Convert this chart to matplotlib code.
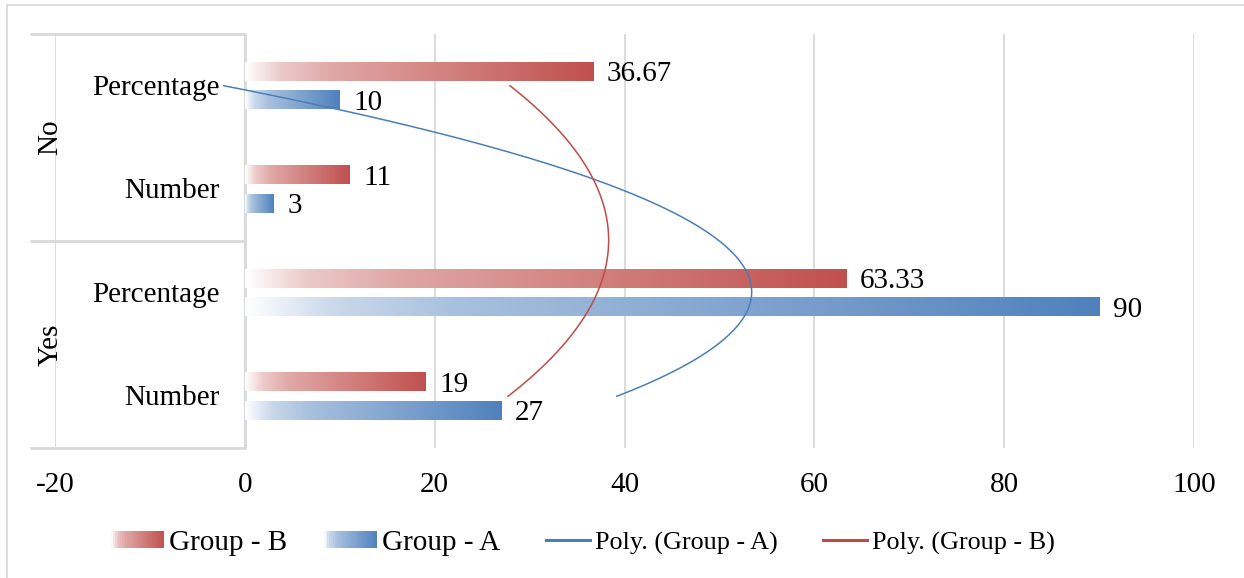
import numpy as np
import matplotlib
matplotlib.use("Agg")
import matplotlib.pyplot as plt
from matplotlib.patches import Rectangle
from matplotlib.lines import Line2D
from matplotlib.legend_handler import HandlerBase
from matplotlib.colors import to_rgb

# ---- data (bottom to top: Yes/Number, Yes/Percentage, No/Number, No/Percentage)
groups = ["Yes", "No"]
measures = ["Number", "Percentage"]
group_a = [27, 90, 3, 10]
group_b = [19, 63.33, 11, 36.67]
x_ticks = [-20, 0, 20, 40, 60, 80, 100]

BLUE = "#4F81BD"
RED = "#C0504D"
TREND_BLUE = "#4A7EBB"
TREND_RED = "#BE4B48"
GRID = "#D9D9D9"
FS = 21

plt.rcParams["font.family"] = ["Liberation Serif", "DejaVu Serif"]

W, H = 1244, 578
fig = plt.figure(figsize=(W / 100, H / 100), dpi=100)
ax = fig.add_axes([55 / W, 1 - 448 / H, (1194 - 55) / W, (448 - 34) / H])


def mix_factor(t):
    return np.interp(t, [0, 0.1, 0.25, 1], [0.0, 0.3, 0.5, 1.0])


def gradient_rgba(color, n=256):
    t = np.linspace(0, 1, n)
    f = mix_factor(t)[:, None]
    c = np.array(to_rgb(color))[None, :]
    rgb = 1 - f * (1 - c)
    return rgb[None, :, :]


pos = np.arange(1, len(group_a) + 1)
bar_h = 0.18
offset = 0.137

bars_b = ax.barh(pos + offset, group_b, height=bar_h, color="none", zorder=2)
bars_a = ax.barh(pos - offset, group_a, height=bar_h, color="none", zorder=2)

for bars, color, vals in ((bars_b, RED, group_b), (bars_a, BLUE, group_a)):
    img = gradient_rgba(color)
    for bar, v in zip(bars, vals):
        x0, y0 = bar.get_x(), bar.get_y()
        ax.imshow(img, extent=[x0, x0 + bar.get_width(), y0, y0 + bar.get_height()],
                  aspect="auto", interpolation="bilinear", zorder=2)
        ax.annotate(f"{v:g}", xy=(x0 + bar.get_width(), y0 + bar.get_height() / 2),
                    xytext=(10, -2), textcoords="offset points",
                    ha="left", va="center", fontsize=FS, zorder=4)

# second-order polynomial trendlines across the categories
yy = np.linspace(pos[0], pos[-1], 300)
for vals, color in ((group_a, TREND_BLUE), (group_b, TREND_RED)):
    coef = np.polyfit(pos, vals, 2)
    ax.plot(np.polyval(coef, yy), yy, color=color, lw=1.1, zorder=3)

ax.set_xlim(-20, 100)
ax.set_ylim(0.5, len(group_a) + 0.5)
ax.set_xticks(x_ticks)
ax.set_xticklabels([f"{t}" for t in x_ticks], fontsize=FS)
ax.set_yticks([])
ax.tick_params(axis="x", length=0, pad=17.5)
ax.grid(axis="x", color=GRID, lw=1.3, zorder=0)
ax.set_axisbelow(True)
for s in ax.spines.values():
    s.set_visible(False)

# multi-level category axis
box_kw = dict(color=GRID, lw=2.0, clip_on=False, zorder=1, solid_capstyle="butt")
for yb in (0.5, 2.5, 4.5):
    ax.plot([-22.6, 0.1], [yb, yb], **box_kw)
ax.plot([0, 0], [0.5, 4.5], **box_kw)

labels = [f"{m}" for g in groups for m in measures]
for p, lab in zip(pos, labels):
    ax.annotate(lab, xy=(0, p), xytext=(-18, -1.5), textcoords="offset points",
                ha="right", va="center", fontsize=FS)
for i, g in enumerate(groups):
    ax.text(-20.5, 1.5 + 2 * i, g, rotation=90, ha="center", va="center", fontsize=FS)

# figure border (top and left edges)
fig.add_artist(Line2D([7 / W, 1], [1 - 5 / H, 1 - 5 / H], transform=fig.transFigure, color=GRID, lw=1.3))
fig.add_artist(Line2D([7 / W, 7 / W], [0, 1 - 5 / H], transform=fig.transFigure, color=GRID, lw=1.3))


class GradientHandler(HandlerBase):
    def __init__(self, color, n=30):
        super().__init__()
        self.color = color
        self.n = n

    def create_artists(self, legend, orig_handle, xdescent, ydescent, width, height, fontsize, trans):
        c = np.array(to_rgb(self.color))
        arts = []
        step = width / self.n
        for i in range(self.n):
            f = mix_factor((i + 0.5) / self.n)
            rgb = 1 - f * (1 - c)
            arts.append(Rectangle((-xdescent + i * step, -ydescent), step * 1.05, height,
                                  facecolor=rgb, edgecolor="none", transform=trans))
        return arts


class ShortLineHandler(HandlerBase):
    def __init__(self, color):
        super().__init__()
        self.color = color

    def create_artists(self, legend, orig_handle, xdescent, ydescent, width, height, fontsize, trans):
        y = -ydescent + height / 2
        return [Line2D([-xdescent + width * 0.17, -xdescent + width], [y, y],
                       color=self.color, lw=2.2, transform=trans)]


h_b, h_a, h_ta, h_tb = Rectangle((0, 0), 1, 1), Rectangle((0, 0), 1, 1), Line2D([], []), Line2D([], [])
leg = fig.legend([h_b, h_a, h_ta, h_tb],
                 ["Group - B", "Group - A", "Poly. (Group - A)", "Poly. (Group - B)"],
                 handler_map={h_b: GradientHandler(RED), h_a: GradientHandler(BLUE),
                              h_ta: ShortLineHandler(TREND_BLUE), h_tb: ShortLineHandler(TREND_RED)},
                 loc="center", bbox_to_anchor=(583 / W, 1 - 543 / H), ncol=4, frameon=False,
                 fontsize=FS, handlelength=1.82, handleheight=0.55, handletextpad=0.17,
                 columnspacing=1.25, borderpad=0)
for t in leg.get_texts()[2:]:
    t.set_fontsize(18.8)

fig.savefig("out.png", dpi=100)
